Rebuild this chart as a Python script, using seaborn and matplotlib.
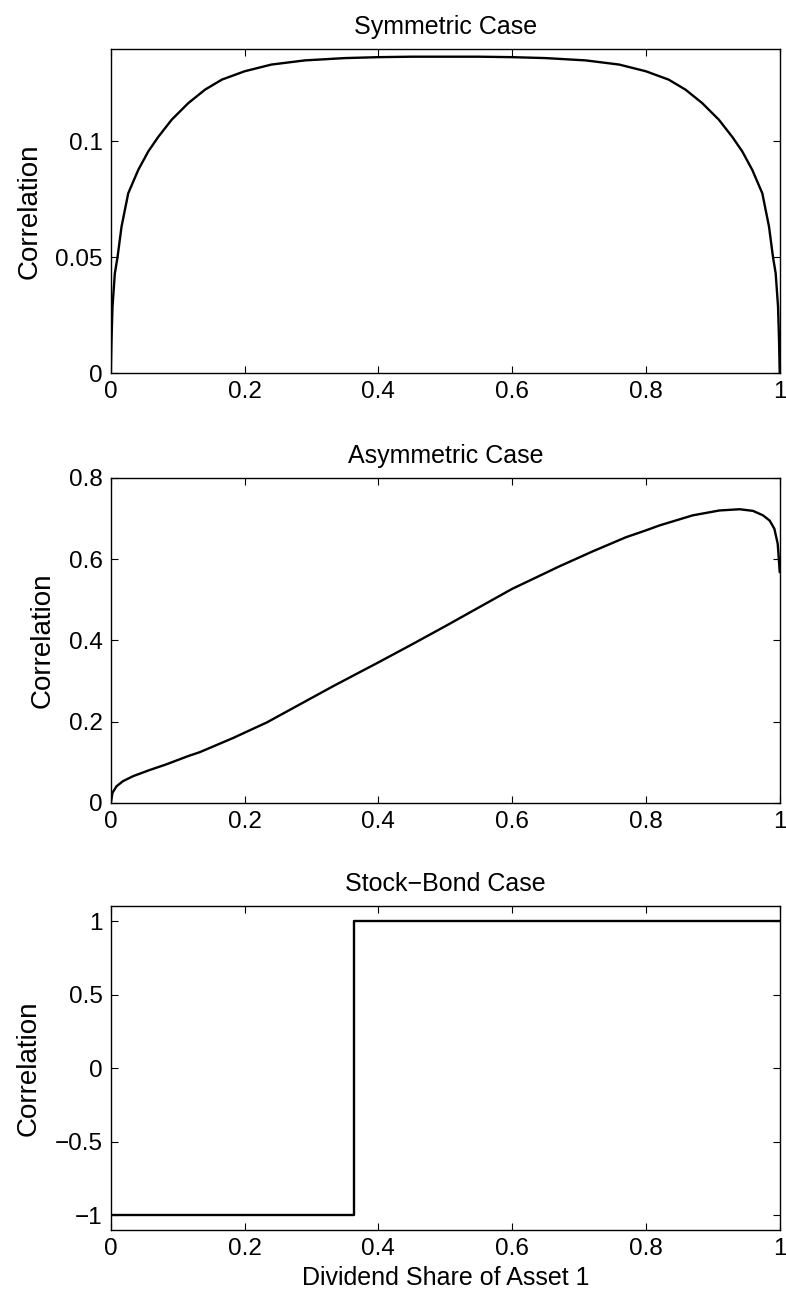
import matplotlib
matplotlib.use("Agg")
import matplotlib.pyplot as plt
import seaborn as sns

# values
sym_x = [0, 0.001, 0.0025, 0.006, 0.01, 0.016, 0.026, 0.041, 0.056, 0.071,
         0.091, 0.116, 0.141, 0.166, 0.2, 0.24, 0.29, 0.35, 0.4, 0.45, 0.5,
         0.55, 0.6, 0.65, 0.71, 0.76, 0.8, 0.834, 0.859, 0.884, 0.909, 0.929,
         0.944, 0.959, 0.974, 0.984, 0.99, 0.994, 0.9975, 0.999, 1.0]
sym_y = [0, 0.0141, 0.0286, 0.043, 0.05, 0.0632, 0.0776, 0.0877, 0.0957, 0.102,
         0.1094, 0.1166, 0.1224, 0.1267, 0.1303, 0.1332, 0.135, 0.136, 0.1364, 0.1366, 0.1366,
         0.1366, 0.1364, 0.136, 0.135, 0.1332, 0.1303, 0.1267, 0.1224, 0.1166, 0.1094, 0.102,
         0.0957, 0.0877, 0.0776, 0.0632, 0.05, 0.043, 0.0286, 0.0141, 0]

asym_x = [0, 0.0025, 0.0085, 0.018, 0.0334, 0.058, 0.083, 0.115, 0.133, 0.183,
          0.2, 0.233, 0.283, 0.333, 0.4, 0.451, 0.501, 0.551, 0.6, 0.651,
          0.67, 0.72, 0.77, 0.8, 0.82, 0.87, 0.91, 0.94, 0.96, 0.975,
          0.985, 0.992, 0.997, 0.9985, 1.0]
asym_y = [0, 0.025, 0.041, 0.0535, 0.066, 0.081, 0.095, 0.115, 0.125, 0.16,
          0.173, 0.198, 0.243, 0.288, 0.346, 0.391, 0.436, 0.482, 0.527, 0.567,
          0.582, 0.619, 0.654, 0.671, 0.683, 0.708, 0.720, 0.723, 0.719, 0.708,
          0.695, 0.675, 0.638, 0.605, 0.568]

sb_x = [0, 0.363, 0.363, 1.0]
sb_y = [-1, -1, 1, 1]

titles = ["Symmetric Case", "Asymmetric Case", "Stock\u2212Bond Case"]
x_ticks = [0, 0.2, 0.4, 0.6, 0.8, 1]
x_labels = ["0", "0.2", "0.4", "0.6", "0.8", "1"]
y_ticks = [[0, 0.05, 0.1], [0, 0.2, 0.4, 0.6, 0.8], [-1, -0.5, 0, 0.5, 1]]
y_labels = [["0", "0.05", "0.1"], ["0", "0.2", "0.4", "0.6", "0.8"],
            ["\u22121", "\u22120.5", "0", "0.5", "1"]]
y_lims = [(0, 0.14), (0, 0.8), (-1.1, 1.1)]

sns.set_style("ticks")
plt.rcParams['font.family'] = ['Liberation Sans', 'DejaVu Sans']
for key in ['text.color', 'axes.labelcolor', 'xtick.color', 'ytick.color']:
    plt.rcParams[key] = 'black'

fig = plt.figure(figsize=(7.86, 13.02), dpi=100)
positions = [[0.141, 0.7135, 0.851, 0.249],
             [0.141, 0.3833, 0.851, 0.2496],
             [0.141, 0.0553, 0.851, 0.2485]]
data = [(sym_x, sym_y), (asym_x, asym_y), (sb_x, sb_y)]

for i, (xs, ys) in enumerate(data):
    ax = fig.add_axes(positions[i])
    sns.lineplot(x=xs, y=ys, ax=ax, color="black", linewidth=1.7,
                 estimator=None, sort=False)
    ax.set_xlim(0, 1)
    ax.set_ylim(*y_lims[i])
    ax.set_xticks(x_ticks)
    ax.set_xticklabels(x_labels)
    ax.set_yticks(y_ticks[i])
    ax.set_yticklabels(y_labels[i])
    ax.tick_params(direction="in", top=True, right=True, length=5, width=0.8,
                   labelsize=17.5, pad=6, colors="black")
    for s in ax.spines.values():
        s.set_linewidth(1.0)
        s.set_color("black")
    ax.set_title(titles[i], fontsize=18, pad=11)
    ax.set_ylabel("Correlation", fontsize=20, labelpad=9)
    if i == 2:
        ax.set_xlabel("Dividend Share of Asset 1", fontsize=18, labelpad=4)

fig.savefig("out.png", dpi=100, facecolor="white")
